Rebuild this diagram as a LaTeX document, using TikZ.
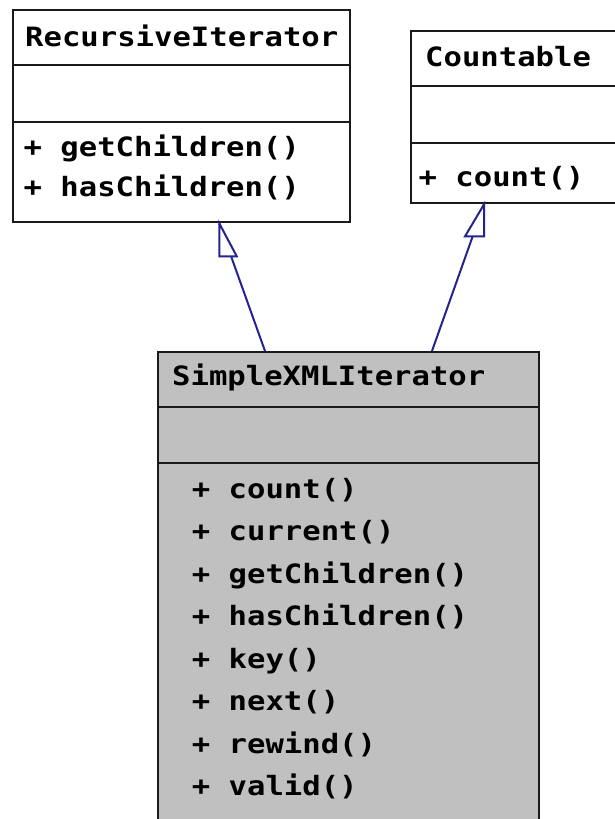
\documentclass[tikz,border=0pt]{standalone}
\usepackage{fontspec}
\newfontfamily\umlfont[FakeStretch=1.15]{DejaVu Sans Mono}
\definecolor{boxline}{RGB}{26,26,26}
\definecolor{classgrey}{RGB}{192,192,192}
\definecolor{linkblue}{RGB}{36,36,140}
\begin{document}
\begin{tikzpicture}[x=1pt,y=-1pt,
  classbox/.style={draw=boxline, line width=2.4pt, rectangle, inner sep=0pt, anchor=north west},
  sepline/.style={draw=boxline, line width=2.4pt},
  label/.style={inner sep=0pt, anchor=base west, font=\umlfont\bfseries\fontsize{26.6}{30}\selectfont},
  link/.style={draw=linkblue, line width=2pt},
  headtri/.style={draw=linkblue, line width=2pt, fill=white, line join=miter}]
\useasboundingbox (0,0) rectangle (615,819);
\clip (0,0) rectangle (615,819);
\fill[white] (0,0) rectangle (615,819);

% RecursiveIterator
\node[classbox, fill=white, minimum width=337pt, minimum height=212pt] (ri) at (12,9) {};
\draw[sepline] (ri.west |- 0,65) -- (ri.east |- 0,65);
\draw[sepline] (ri.west |- 0,122) -- (ri.east |- 0,122);
\node[label] (riname) at (25,46.7) {RecursiveIterator};
\node[label] (rim1) at (23.4,156) {+ getChildren()};
\node[label] (rim2) at (23.4,196) {+ hasChildren()};

% Countable (runs past the right edge)
\node[classbox, fill=white, minimum width=230pt, minimum height=172pt] (co) at (410,30) {};
\draw[sepline] (co.west |- 0,86) -- (co.east |- 0,86);
\draw[sepline] (co.west |- 0,143) -- (co.east |- 0,143);
\node[label] (coname) at (425,66.5) {Countable};
\node[label] (com1) at (418.4,186.5) {+ count()};

% SimpleXMLIterator (runs past the bottom edge)
\node[classbox, fill=classgrey, minimum width=381pt, minimum height=490pt] (sx) at (157,351) {};
\draw[sepline] (sx.west |- 0,407) -- (sx.east |- 0,407);
\draw[sepline] (sx.west |- 0,463) -- (sx.east |- 0,463);
\node[label] (sxname) at (172,385) {SimpleXMLIterator};
\foreach \m [count=\i] in {count(),current(),getChildren(),hasChildren(),key(),next(),rewind(),valid()}
  \node[label] (sxm\i) at (191.7,{498+42.5*(\i-1)}) {+ \m};

% generalisation links
\coordinate (tipri) at (ri.south west -| 219.3,0);
\coordinate (tipco) at (co.south west -| 484,0);
\coordinate (fromri) at (sx.north west -| 265,0);
\coordinate (fromco) at (sx.north west -| 432,0);
\draw[link] (fromri) -- (tipri);
\draw[link] (fromco) -- (tipco);
\draw[headtri] (tipri) -- ++(0,33) -- ++(17.5,0) -- cycle;
\draw[headtri] (tipco) -- ++(0,32) -- ++(-19,0) -- cycle;
\end{tikzpicture}
\end{document}
